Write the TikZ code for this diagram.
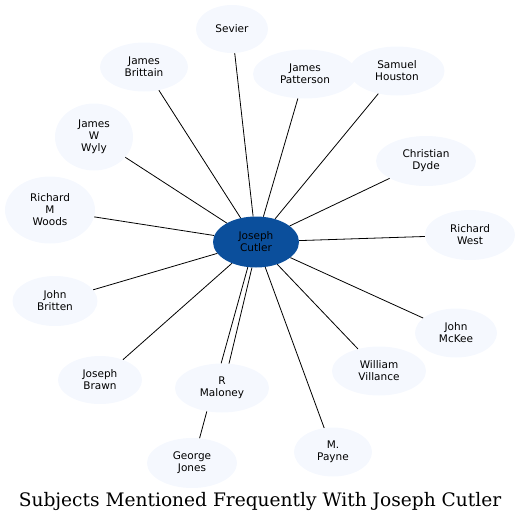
\documentclass[tikz,border=0pt]{standalone}
\usepackage{fontspec}
\newfontfamily\labelfont{DejaVu Sans}
\newfontfamily\titlefont{DejaVu Serif}
\usetikzlibrary{shapes.geometric, positioning}
\definecolor{hubblue}{HTML}{0B4F9C}
\definecolor{palefill}{HTML}{F5F8FE}

\begin{document}
\begin{tikzpicture}[x=1pt, y=-1pt,
    person/.style={ellipse, fill=palefill, inner sep=0pt, minimum height=49pt,
      align=center, font=\labelfont\fontsize{10.5}{12}\selectfont},
    hub/.style={person, fill=hubblue, minimum width=86pt, minimum height=51pt},
    link/.style={line width=0.8pt}]
        \useasboundingbox (0,0) rectangle (520,523);
        \node[hub] (cutler) at (256,242) {Joseph\\Cutler};
        \node[person, minimum width=72pt, minimum height=48pt] (sevier) at (232,29) {Sevier};
        \node[person, minimum width=88pt] (brittain) at (144,67) {James\\Brittain};
        \node[person, minimum width=78pt, minimum height=67pt] (wyly) at (94,137) {James\\W\\Wyly};
        \node[person, minimum width=90pt, minimum height=67pt] (woods) at (50,210) {Richard\\M\\Woods};
        \node[person, minimum width=104pt] (patterson) at (305,74) {James\\Patterson};
        \node[person, minimum width=95pt] (houston) at (397,71) {Samuel\\Houston};
        \node[person, minimum width=100pt, minimum height=50pt] (dyde) at (426,161) {Christian\\Dyde};
        \node[person, minimum width=90pt, minimum height=50pt] (west) at (470,235) {Richard\\West};
        \node[person, minimum width=82pt] (mckee) at (456,333) {John\\McKee};
        \node[person, minimum width=94pt] (villance) at (379,371) {William\\Villance};
        \node[person, minimum width=78pt] (payne) at (333,452) {M.\\Payne};
        \node[person, minimum width=85pt, minimum height=50pt] (britten) at (55,301) {John\\Britten};
        \node[person, minimum width=84pt, minimum height=48pt] (brawn) at (100,380) {Joseph\\Brawn};
        \node[person, minimum width=94pt] (maloney) at (222,388) {R\\Maloney};
        \node[person, minimum width=90pt, minimum height=50pt] (jones) at (192,463) {George\\Jones};
        \node[font=\titlefont\fontsize{18.6}{22}\selectfont] (title) at (260,501)
          {Subjects Mentioned Frequently With Joseph Cutler};
        \path[link]
          (cutler) edge (sevier)
          (cutler) edge (brittain)
          (cutler) edge (wyly)
          (cutler) edge (woods)
          (cutler) edge (patterson)
          (cutler) edge (houston)
          (cutler) edge (dyde)
          (cutler) edge (west)
          (cutler) edge (mckee)
          (cutler) edge (villance)
          (cutler) edge (payne)
          (cutler) edge (britten)
          (cutler) edge (brawn)
          (maloney.237) edge (jones.73);
        % two links to R Maloney
        \path[link]
          (cutler.252) edge (maloney.92)
          (cutler.261) edge (maloney.74);
\end{tikzpicture}
\end{document}
